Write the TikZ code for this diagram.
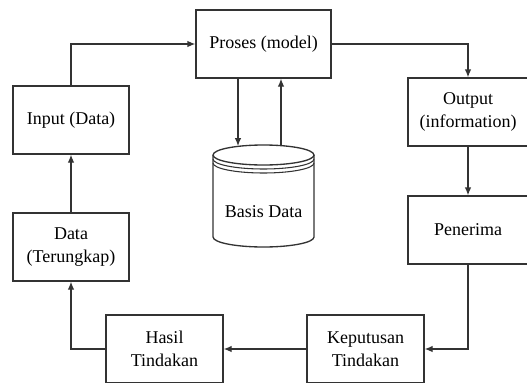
\documentclass[tikz,border=0pt]{standalone}
\usepackage{fontspec}
\setmainfont{Liberation Serif}
\usetikzlibrary{arrows.meta}
\begin{document}
\begin{tikzpicture}[x=0.75pt,y=0.75pt,yscale=-1,xscale=1,
  box/.style={draw=black!80, line width=1pt, fill=white, align=center,
    inner sep=0pt, font=\fontsize{13.5}{17}\selectfont},
  arr/.style={draw=black!80, line width=1pt, -{Latex[length=6pt,width=5pt]}}]
\useasboundingbox (0,0) rectangle (527,382);
\clip (0,0) rectangle (527,382);

% Boxes
\node[box, minimum width=101.25pt, minimum height=51pt] (prs) at (263.5,44) {Proses (model)};
\node[box, minimum width=87pt, minimum height=51pt] (inp) at (71,120) {Input (Data)};
\node[box, minimum width=87pt, minimum height=51pt] (dat) at (71,247) {Data\\(Terungkap)};
\node[box, minimum width=90pt, minimum height=51pt] (out) at (468,112) {Output\\(information)};
\node[box, minimum width=90pt, minimum height=51pt] (pen) at (468,230) {Penerima};
\node[box, minimum width=87.75pt, minimum height=51pt] (kep) at (365.5,349) {Keputusan\\Tindakan};
\node[box, minimum width=87.75pt, minimum height=51pt] (has) at (164.5,349) {Hasil\\Tindakan};

% Database (cylinder)
\draw[black!80, line width=1pt] (263.5,155) ellipse [x radius=50.5, y radius=10];
\draw[black!80, line width=0.8pt] (314,159) arc[start angle=0, end angle=180, x radius=50.5, y radius=10];
\draw[black!80, line width=0.8pt] (314,163) arc[start angle=0, end angle=180, x radius=50.5, y radius=10];
\draw[black!80, line width=1pt] (213,155) -- (213,237) arc[start angle=180, end angle=0, x radius=50.5, y radius=10] -- (314,155);
\node[font=\fontsize{13.5}{17}\selectfont] (db) at (263.5,212) {Basis Data};
\coordinate (dbin) at (238,146);
\coordinate (dbout) at (281,146);

% Connectors
\draw[arr] (inp.north) |- (prs.west);
\draw[arr] (prs.east) -| (out.north);
\draw[arr] (out.south) -- (pen.north);
\draw[arr] (pen.south) |- (kep.east);
\draw[arr] (kep.west) -- (has.east);
\draw[arr] (has.west) -| (dat.south);
\draw[arr] (dat.north) -- (inp.south);
\draw[arr] (prs.south -| dbin) -- (dbin);
\draw[arr] (dbout) -- (prs.south -| dbout);
\end{tikzpicture}
\end{document}
